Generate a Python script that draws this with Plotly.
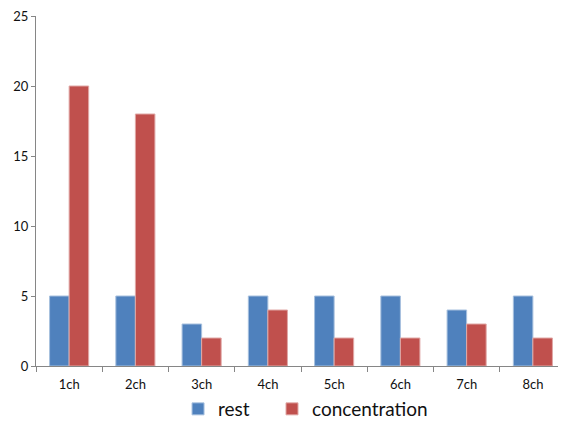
import plotly.graph_objects as go

categories = ["1ch", "2ch", "3ch", "4ch", "5ch", "6ch", "7ch", "8ch"]
rest = [5, 5, 3, 5, 5, 5, 4, 5]
concentration = [20, 18, 2, 4, 2, 2, 3, 2]
y_ticks = [0, 5, 10, 15, 20, 25]

fig = go.Figure()
fig.add_trace(go.Bar(x=categories, y=rest, name="rest", legend="legend",
                     marker=dict(color="#4F81BD", line=dict(color="#A7C0DE", width=1))))
fig.add_trace(go.Bar(x=categories, y=concentration, name="concentration", legend="legend2",
                     marker=dict(color="#C0504D", line=dict(color="#E0A8A6", width=1))))

legend_style = dict(orientation="h", xanchor="left", y=-0.1229, yanchor="middle",
                    font=dict(size=19, color="#111"), itemwidth=30, borderwidth=0,
                    bgcolor="rgba(0,0,0,0)")

# page body has an 8px margin, so figure is sized/offset to compensate
fig.update_layout(
    width=558, height=420,
    margin=dict(l=28, r=0, t=8, b=62),
    paper_bgcolor="white", plot_bgcolor="white",
    barmode="group", bargap=0.41, bargroupgap=0,
    font=dict(family="Lato, Open Sans, sans-serif", color="#111", size=13),
    showlegend=True,
    legend=dict(x=0.268, **legend_style),
    legend2=dict(x=0.4453, **legend_style),
)
fig.update_xaxes(showline=True, linecolor="#868686", linewidth=1, automargin=False,
                 ticks="outside", tickson="boundaries", ticklen=5, tickcolor="#868686",
                 ticklabelstandoff=6,
                 showgrid=False, tickfont=dict(size=13))
fig.update_yaxes(range=[0, 25], tickvals=y_ticks, showline=True, linecolor="#868686",
                 linewidth=1, ticks="outside", ticklen=4, tickcolor="#868686", automargin=False,
                 ticklabeloverflow="allow",
                 showgrid=False, zeroline=False, tickfont=dict(size=13))

fig.write_html("out.html")
